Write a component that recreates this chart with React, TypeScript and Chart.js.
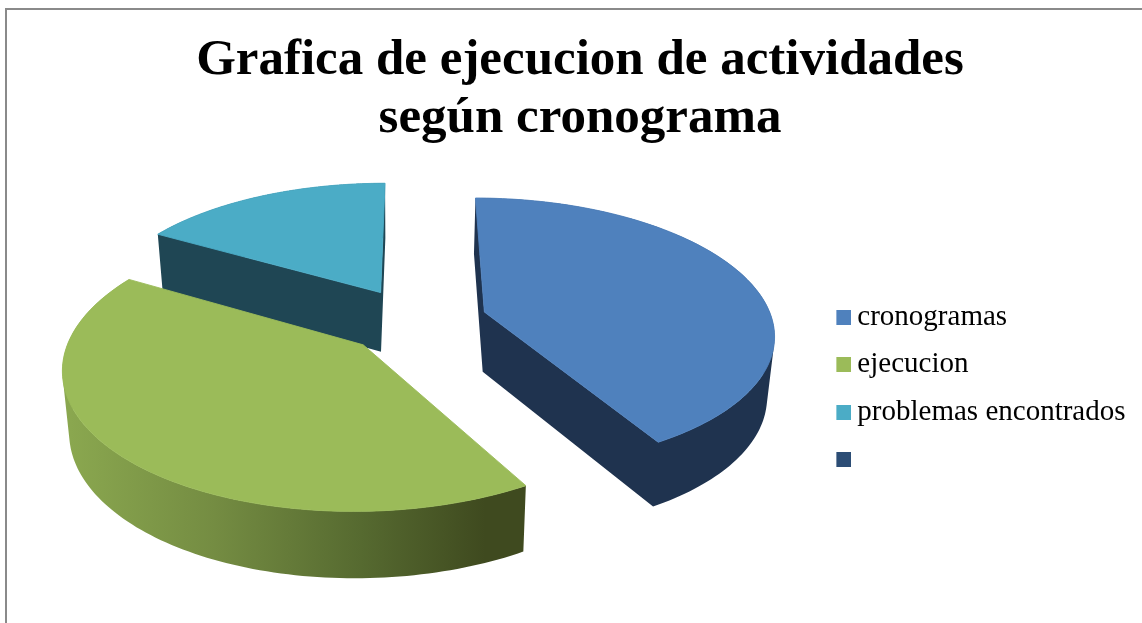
import React, { useEffect, useRef } from "react";
import { Chart, registerables } from "chart.js";

Chart.register(...registerables);

const categories = ["cronogramas", "ejecucion", "problemas encontrados", ""];
const seriesValues = [5, 5, 2, 0];
const sliceColors = ["#4f81bd", "#9bbb59", "#4bacc6", "#2c4d75"];
const wallColors = ["#1f334f", "#5f7433", "#1f4654", "#1f334f"];
const titleLines = ["Grafica de ejecucion de actividades", "según cronograma"];

// Ground-plane projection of the unit pie, used to tilt the library's arcs.
const VIEW = { cx: 415.5, cy: 320.6, fx: 288, fy: 133.5, k: 0.15, explode: 0.25 };
const DEPTH = { pivotX: 400, shrink: 0.98, base: 59, pivotY: 292, grow: 0.036 };
const DRAW_ORDER = [2, 0, 1];
const LEGEND_SHIFT = { x: -6.5, y: 77 };

type P = [number, number];

function project(u: number, v: number): P {
  const w = 1 - VIEW.k * v;
  return [VIEW.cx + (VIEW.fx * u) / w, VIEW.cy + (VIEW.fy * v) / w];
}

function lower([x, y]: P): P {
  return [
    DEPTH.pivotX + (x - DEPTH.pivotX) * DEPTH.shrink,
    y + DEPTH.base + (y - DEPTH.pivotY) * DEPTH.grow,
  ];
}

function area(pts: P[]) {
  let a = 0;
  pts.forEach(([x, y], i) => {
    const [nx, ny] = pts[(i + 1) % pts.length];
    a += x * ny - nx * y;
  });
  return a;
}

function addPoly(ctx: CanvasRenderingContext2D, raw: P[]) {
  const pts = area(raw) < 0 ? [...raw].reverse() : raw;
  pts.forEach(([x, y], i) => (i ? ctx.lineTo(x, y) : ctx.moveTo(x, y)));
  ctx.closePath();
}

function fillPoly(ctx: CanvasRenderingContext2D, pts: P[], fill: string | CanvasGradient, seal = false) {
  ctx.beginPath();
  addPoly(ctx, pts);
  ctx.fillStyle = fill;
  ctx.fill();
  if (seal) {
    ctx.strokeStyle = fill;
    ctx.lineWidth = 0.9;
    ctx.stroke();
  }
}

const tiltedPie = {
  id: "tiltedPie",
  afterLayout(chart: any) {
    const lg = chart.legend;
    lg.left += LEGEND_SHIFT.x;
    lg.right += LEGEND_SHIFT.x;
    lg.top += LEGEND_SHIFT.y;
    lg.bottom += LEGEND_SHIFT.y;
  },
  beforeDatasetsDraw(chart: any) {
    const ctx: CanvasRenderingContext2D = chart.ctx;
    const arcs = chart.getDatasetMeta(0).data;
    DRAW_ORDER.forEach((i) => {
      const arc = arcs[i];
      const { startAngle, endAngle } = arc;
      const mid = (startAngle + endAngle) / 2;
      const ou = VIEW.explode * Math.cos(mid);
      const ov = VIEW.explode * Math.sin(mid);
      const at = (a: number): P => project(ou + Math.cos(a), ov + Math.sin(a));
      const rim: P[] = [];
      const steps = 120;
      for (let s = 0; s <= steps; s++) rim.push(at(startAngle + ((endAngle - startAngle) * s) / steps));
      const apex = project(ou, ov);

      let wall: string | CanvasGradient = wallColors[i];
      if (i === 1) {
        const g = ctx.createLinearGradient(70, 0, 485, 0);
        g.addColorStop(0, "#8aa74f");
        g.addColorStop(0.35, "#748c42");
        g.addColorStop(0.7, "#566a30");
        g.addColorStop(1, "#3f4a1f");
        wall = g;
      }
      // radial cut walls and outer wall as one same-winding path, then the top face
      ctx.beginPath();
      if (i !== 1) {
        addPoly(ctx, [rim[0], apex, lower(apex), lower(rim[0])]);
        addPoly(ctx, [rim[steps], apex, lower(apex), lower(rim[steps])]);
      }
      for (let s = 0; s < steps; s++) {
        addPoly(ctx, [rim[s], rim[s + 1], lower(rim[s + 1]), lower(rim[s])]);
      }
      ctx.fillStyle = wall;
      ctx.fill();
      fillPoly(ctx, [apex, ...rim], arc.options.backgroundColor, true);
    });
    return false;
  },
};

export default function App() {
  const ref = useRef<HTMLCanvasElement>(null);
  useEffect(() => {
    const swatches = sliceColors.map((c) => {
      const s = document.createElement("canvas");
      s.width = 18;
      s.height = 15;
      const g = s.getContext("2d")!;
      g.fillStyle = c;
      g.fillRect(3, 0, 15, 15);
      return s;
    });
    const chart = new Chart(ref.current!, {
      type: "pie",
      data: {
        labels: categories,
        datasets: [{ data: seriesValues, backgroundColor: sliceColors, borderWidth: 0 }],
      },
      options: {
        responsive: false,
        animation: false,
        layout: { padding: { left: 18, right: 0, top: 0, bottom: 0 } },
        plugins: {
          tooltip: { enabled: false },
          title: {
            display: true,
            text: titleLines,
            color: "#000",
            align: "center",
            font: { family: "'Liberation Serif'", size: 51, weight: "bold", lineHeight: 1.14 },
            padding: { top: 32, bottom: 20 },
          },
          legend: {
            position: "right",
            align: "center",
            labels: {
              color: "#111",
              font: { family: "'Liberation Serif'", size: 29 },
              usePointStyle: true,
              pointStyleWidth: 1,
              boxHeight: 15,
              padding: 18.5,
              generateLabels: () =>
                categories.map((text, index) => ({
                  text,
                  index,
                  fillStyle: sliceColors[index],
                  strokeStyle: sliceColors[index],
                  lineWidth: 0,
                  pointStyle: swatches[index],
                  hidden: false,
                })),
            },
          },
        },
      },
      plugins: [tiltedPie],
    } as any);
    return () => chart.destroy();
  }, []);
  return (
    <div style={{ position: "fixed", left: 0, top: 0, width: 1142, height: 623, background: "#fff", overflow: "hidden" }}>
      <div
        style={{
          position: "absolute",
          left: 5,
          top: 8,
          width: 1137,
          height: 615,
          borderLeft: "2px solid #8a8a8a",
          borderTop: "2px solid #8a8a8a",
        }}
      />
      <canvas ref={ref} width={1142} height={623} style={{ position: "absolute", left: 0, top: 0, display: "block" }} />
    </div>
  );
}
